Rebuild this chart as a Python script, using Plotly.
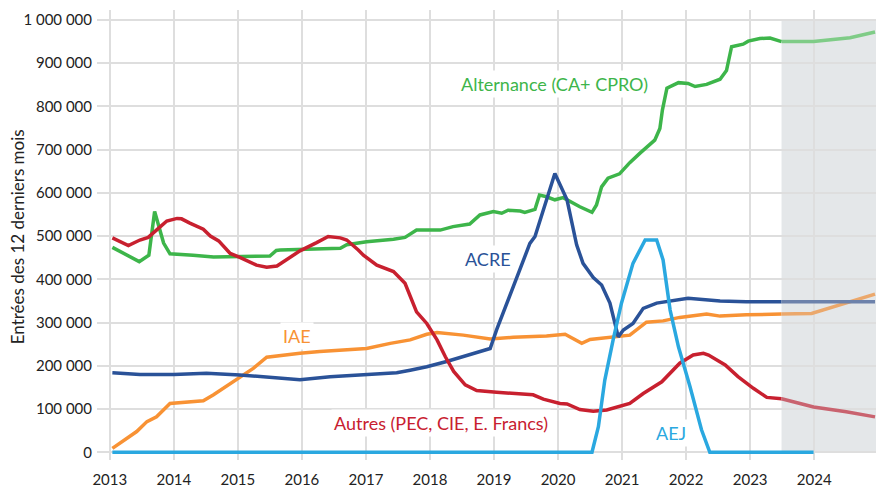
import plotly.graph_objects as go

# ---- Data (values in thousands) ----
alt_x = [2013.04, 2013.46, 2013.61, 2013.70, 2013.84, 2013.94, 2014.30, 2014.62, 2015.50, 2015.60, 2015.66,
         2016.60, 2016.70, 2017.01, 2017.43, 2017.61, 2017.79, 2018.16, 2018.36, 2018.62, 2018.78, 2018.99,
         2019.12, 2019.22, 2019.41, 2019.48, 2019.64, 2019.71, 2019.82, 2019.95, 2020.08, 2020.19, 2020.34,
         2020.53, 2020.60, 2020.68, 2020.78, 2020.96, 2021.12, 2021.28, 2021.51, 2021.59, 2021.63, 2021.70,
         2021.88, 2022.03, 2022.14, 2022.32, 2022.53, 2022.63, 2022.71, 2022.89, 2022.97, 2023.15, 2023.31, 2023.49]
alt_y = [474, 441, 456, 557, 484, 459, 456, 452, 454, 467, 468,
         472, 480, 487, 493, 497, 514, 514, 522, 528, 549, 557,
         553, 560, 558, 555, 562, 595, 591, 584, 589, 580, 568,
         555, 572, 614, 634, 644, 670, 692, 722, 749, 792, 842,
         855, 853, 846, 851, 863, 883, 938, 944, 951, 957, 958, 950]
alt_proj_x = [2023.49, 2023.99, 2024.56, 2024.95]
alt_proj_y = [950, 950, 959, 972]

aut_x = [2013.04, 2013.29, 2013.47, 2013.60, 2013.79, 2013.89, 2014.05, 2014.12, 2014.25, 2014.46, 2014.57,
         2014.70, 2014.88, 2015.03, 2015.29, 2015.45, 2015.61, 2015.76, 2015.97, 2016.23, 2016.41, 2016.60,
         2016.70, 2016.88, 2016.96, 2017.17, 2017.43, 2017.61, 2017.69, 2017.79, 2017.95, 2018.11, 2018.24,
         2018.37, 2018.55, 2018.73, 2019.04, 2019.30, 2019.61, 2019.77, 2020.03, 2020.14, 2020.34, 2020.55,
         2020.76, 2021.12, 2021.33, 2021.62, 2021.90, 2022.11, 2022.27, 2022.35, 2022.61, 2022.81, 2023.05,
         2023.26, 2023.49]
aut_y = [496, 478, 491, 497, 522, 535, 541, 540, 530, 516, 500,
         489, 460, 451, 433, 428, 431, 446, 466, 485, 499, 496,
         491, 468, 456, 433, 418, 391, 360, 325, 298, 260, 221,
         187, 156, 143, 139, 136, 133, 123, 113, 112, 99, 95,
         98, 113, 136, 163, 206, 225, 229, 225, 202, 175, 148,
         127, 124]
aut_proj_x = [2023.49, 2023.99, 2024.50, 2024.95]
aut_proj_y = [124, 105, 94, 82]

acre_x = [2013.04, 2013.47, 2014.00, 2014.51, 2015.03, 2015.50, 2015.97, 2016.44, 2016.96, 2017.48, 2017.69,
          2017.95, 2018.26, 2018.52, 2018.78, 2018.94, 2019.04, 2019.30, 2019.56, 2019.64, 2019.95, 2020.14,
          2020.29, 2020.39, 2020.55, 2020.68, 2020.81, 2020.94, 2021.02, 2021.17, 2021.33, 2021.54, 2021.80,
          2022.03, 2022.53, 2022.94, 2023.49]
acre_y = [184, 180, 180, 183, 179, 173, 168, 175, 180, 184, 190,
          198, 210, 221, 234, 240, 283, 383, 483, 499, 645, 584,
          480, 437, 404, 387, 345, 267, 283, 298, 333, 345, 351,
          356, 350, 348, 348]
acre_proj_x = [2023.49, 2024.95]
acre_proj_y = [348, 348]

iae_x = [2013.04, 2013.42, 2013.58, 2013.73, 2013.94, 2014.10, 2014.46, 2014.62, 2014.93, 2015.24, 2015.45,
         2015.71, 2015.97, 2016.28, 2016.70, 2017.01, 2017.38, 2017.69, 2017.95, 2018.11, 2018.52, 2018.94,
         2019.30, 2019.82, 2020.11, 2020.19, 2020.37, 2020.50, 2020.76, 2020.97, 2021.12, 2021.38, 2021.64,
         2021.90, 2022.32, 2022.53, 2022.94, 2023.49]
iae_y = [9, 48, 71, 82, 113, 115, 119, 133, 163, 194, 220,
         225, 229, 233, 238, 240, 252, 260, 273, 277, 271, 262,
         266, 269, 273, 267, 252, 261, 265, 267, 271, 301, 304,
         312, 320, 315, 318, 320]
iae_proj_x = [2023.49, 2023.96, 2024.95]
iae_proj_y = [320, 321, 366]

aej_x = [2013.04, 2020.53, 2020.63, 2020.73, 2020.86, 2020.99, 2021.17, 2021.36, 2021.54, 2021.64, 2021.75,
         2021.88, 2022.06, 2022.24, 2022.37, 2023.99]
aej_y = [0, 0, 59, 167, 260, 345, 437, 491, 491, 445, 329,
         244, 152, 52, 0, 0]

year_ticks = list(range(2013, 2026))
year_labels = [str(y) for y in range(2013, 2025)] + [""]
y_ticks = list(range(0, 1000001, 100000))

# ---- Styles ----
GREEN, GREEN_P = "#3db54a", "#7fcc87"
RED, RED_P = "#c8202f", "#c9636f"
BLUE, BLUE_P = "#2a5298", "#6d82ab"
ORANGE, ORANGE_P = "#f89234", "#eba86c"
LBLUE = "#2aa8e0"

def k(v):
    return [x * 1000 for x in v]

fig = go.Figure()

def line(x, y, color):
    fig.add_trace(go.Scatter(x=x, y=k(y), mode="lines", line=dict(color=color, width=3.5),
                             hoverinfo="skip", showlegend=False))

line(alt_x, alt_y, GREEN)
line(alt_proj_x, alt_proj_y, GREEN_P)
line(iae_x, iae_y, ORANGE)
line(iae_proj_x, iae_proj_y, ORANGE_P)
line(acre_x, acre_y, BLUE)
line(acre_proj_x, acre_proj_y, BLUE_P)
line(aut_x, aut_y, RED)
line(aut_proj_x, aut_proj_y, RED_P)
line(aej_x, aej_y, LBLUE)

fig.add_shape(type="rect", xref="x", yref="y", x0=2023.49, x1=2024.99, y0=0, y1=1000000,
              fillcolor="#e4e7e9", line=dict(width=0), layer="below")

ann_font = "Lato, 'Noto Sans', sans-serif"
labels = [
    ("Alternance (CA+ CPRO)", 2019.94, 852000, GREEN),
    ("ACRE", 2018.90, 447000, BLUE),
    ("IAE", 2015.93, 269000, ORANGE),
    ("Autres (PEC, CIE, E. Francs)", 2018.17, 68000, RED),
    ("AEJ", 2021.76, 45000, LBLUE),
]
for text, x, y, c in labels:
    fig.add_annotation(x=x, y=y, text=text, showarrow=False, bgcolor="white",
                       font=dict(family=ann_font, size=18, color=c), borderpad=2)

# y-axis title
fig.add_annotation(xref="paper", yref="paper", x=-0.1017, y=0.497, text="Entrées des 12 derniers mois",
                   textangle=-90, showarrow=False, xanchor="center", yanchor="middle",
                   font=dict(family="Lato, 'Noto Sans', sans-serif", size=17, color="#222222"))

# page body has an 8px default margin: compensate so the plot lands where the reference has it
fig.update_layout(
    width=876, height=479,
    margin=dict(l=89, r=0, t=2, b=27),
    plot_bgcolor="white", paper_bgcolor="white",
    separators=", ",
    font=dict(family="Lato, 'Noto Sans', sans-serif", size=15, color="#222222"),
    xaxis=dict(range=[2012.8, 2025.09], tickvals=year_ticks, ticktext=year_labels,
               showgrid=True, gridcolor="#dedede", gridwidth=1.5, zeroline=False,
               showline=False, ticks="", tickfont=dict(size=15), automargin=False,
               ticklabelstandoff=9),
    yaxis=dict(range=[-17800, 1023000], tickvals=y_ticks, tickformat=",d",
               showgrid=True, gridcolor="#dedede", gridwidth=1.5, zeroline=False,
               showline=False, ticks="", tickfont=dict(size=15), automargin=False,
               ticklabelstandoff=4),
)

fig.write_html("out.html")
